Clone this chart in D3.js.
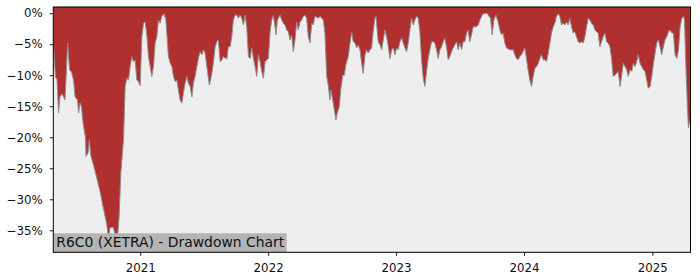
<!DOCTYPE html>
<html>
<head>
<meta charset="utf-8">
<script src="https://cdn.jsdelivr.net/npm/d3@7.9.0/dist/d3.min.js"></script>
<style>
  body { margin: 0; background: #fff; }
  svg { display: block; font-family: "DejaVu Sans", sans-serif; }
</style>
</head>
<body>
<svg id="chart" width="700" height="280"></svg>
<script>
// decimal years (time) and drawdown in percent
const years = [
  2020.323, 2020.340, 2020.352, 2020.364, 2020.375, 2020.391, 2020.403, 2020.414, 2020.435, 2020.450,
  2020.465, 2020.481, 2020.493, 2020.512, 2020.520, 2020.532, 2020.543, 2020.555, 2020.574, 2020.578,
  2020.594, 2020.604, 2020.615, 2020.649, 2020.688, 2020.713, 2020.740, 2020.753, 2020.766, 2020.792,
  2020.805, 2020.818, 2020.823, 2020.836, 2020.849, 2020.870, 2020.883, 2020.896, 2020.909, 2020.922,
  2020.935, 2020.948, 2020.961, 2020.974, 2020.987, 2021.000, 2021.013, 2021.026, 2021.039, 2021.052,
  2021.065, 2021.078, 2021.091, 2021.104, 2021.117, 2021.130, 2021.143, 2021.156, 2021.169, 2021.187,
  2021.201, 2021.221, 2021.234, 2021.248, 2021.260, 2021.273, 2021.287, 2021.299, 2021.312, 2021.326,
  2021.338, 2021.351, 2021.365, 2021.377, 2021.390, 2021.404, 2021.416, 2021.429, 2021.443, 2021.455,
  2021.468, 2021.482, 2021.494, 2021.507, 2021.521, 2021.541, 2021.560, 2021.572, 2021.586, 2021.599,
  2021.611, 2021.625, 2021.638, 2021.650, 2021.677, 2021.689, 2021.703, 2021.716, 2021.728, 2021.742,
  2021.755, 2021.767, 2021.781, 2021.794, 2021.807, 2021.820, 2021.833, 2021.846, 2021.859, 2021.872,
  2021.885, 2021.898, 2021.911, 2021.924, 2021.937, 2021.950, 2021.963, 2021.976, 2022.002, 2022.015,
  2022.028, 2022.041, 2022.054, 2022.062, 2022.072, 2022.093, 2022.106, 2022.119, 2022.132, 2022.145,
  2022.158, 2022.171, 2022.184, 2022.197, 2022.210, 2022.223, 2022.236, 2022.249, 2022.262, 2022.275,
  2022.288, 2022.301, 2022.314, 2022.327, 2022.341, 2022.353, 2022.366, 2022.392, 2022.405, 2022.419,
  2022.431, 2022.444, 2022.458, 2022.470, 2022.483, 2022.491, 2022.505, 2022.515, 2022.530, 2022.540,
  2022.556, 2022.567, 2022.583, 2022.595, 2022.608, 2022.626, 2022.640, 2022.653, 2022.665, 2022.679,
  2022.692, 2022.704, 2022.718, 2022.731, 2022.743, 2022.757, 2022.770, 2022.782, 2022.796, 2022.809,
  2022.822, 2022.835, 2022.843, 2022.853, 2022.861, 2022.874, 2022.887, 2022.900, 2022.913, 2022.926,
  2022.939, 2022.952, 2022.966, 2022.978, 2022.991, 2023.004, 2023.016, 2023.030, 2023.043, 2023.056,
  2023.069, 2023.082, 2023.095, 2023.108, 2023.121, 2023.134, 2023.147, 2023.160, 2023.173, 2023.186,
  2023.199, 2023.212, 2023.225, 2023.238, 2023.251, 2023.264, 2023.277, 2023.290, 2023.303, 2023.316,
  2023.329, 2023.342, 2023.356, 2023.368, 2023.381, 2023.395, 2023.407, 2023.420, 2023.433, 2023.446,
  2023.459, 2023.473, 2023.485, 2023.498, 2023.512, 2023.524, 2023.537, 2023.551, 2023.563, 2023.576,
  2023.589, 2023.602, 2023.629, 2023.641, 2023.655, 2023.668, 2023.680, 2023.711, 2023.727, 2023.738,
  2023.751, 2023.764, 2023.780, 2023.797, 2023.811, 2023.824, 2023.836, 2023.850, 2023.863, 2023.889,
  2023.915, 2023.928, 2023.941, 2023.953, 2023.967, 2023.980, 2023.992, 2024.006, 2024.019, 2024.031,
  2024.045, 2024.058, 2024.071, 2024.084, 2024.097, 2024.110, 2024.123, 2024.136, 2024.149, 2024.162,
  2024.175, 2024.188, 2024.201, 2024.214, 2024.227, 2024.240, 2024.253, 2024.266, 2024.279, 2024.292,
  2024.305, 2024.318, 2024.331, 2024.344, 2024.357, 2024.370, 2024.383, 2024.396, 2024.409, 2024.422,
  2024.435, 2024.448, 2024.461, 2024.474, 2024.487, 2024.500, 2024.513, 2024.526, 2024.539, 2024.552,
  2024.566, 2024.578, 2024.591, 2024.604, 2024.617, 2024.630, 2024.643, 2024.656, 2024.669, 2024.682,
  2024.695, 2024.708, 2024.721, 2024.734, 2024.748, 2024.761, 2024.773, 2024.787, 2024.800, 2024.812,
  2024.826, 2024.839, 2024.851, 2024.865, 2024.878, 2024.890, 2024.904, 2024.917, 2024.930, 2024.943,
  2024.956, 2024.968, 2024.982, 2024.995, 2025.008, 2025.021, 2025.034, 2025.047, 2025.060, 2025.073,
  2025.086, 2025.099, 2025.112, 2025.126, 2025.138, 2025.152, 2025.164, 2025.178, 2025.191, 2025.204,
  2025.217, 2025.230, 2025.243, 2025.251, 2025.262, 2025.274, 2025.282, 2025.290, 2025.298
];
const drawdown = [
  -4.8, -10.3, -10.7, -16.1, -13.5, -13.0, -13.5, -14.0, -4.8, -9.1,
  -9.5, -10.8, -13.5, -14.0, -16.1, -14.5, -15.1, -17.7, -20.1, -23.1,
  -22.5, -20.4, -22.9, -25.5, -28.8, -31.4, -34.1, -36.3, -34.5, -34.6,
  -35.8, -38.5, -36.3, -32.8, -25.8, -20.4, -11.8, -10.5, -10.8, -8.6,
  -7.0, -7.8, -7.6, -10.8, -11.0, -11.7, -3.8, -1.6, -1.4, -3.5,
  -7.0, -8.6, -10.2, -8.6, -4.8, -3.8, -1.1, -1.6, -0.5, -0.1,
  -1.1, -7.0, -8.0, -8.6, -10.2, -11.0, -10.8, -12.4, -14.0, -14.5,
  -12.9, -11.3, -10.2, -11.3, -11.8, -13.5, -11.3, -10.2, -8.6, -7.3,
  -6.2, -6.7, -5.9, -6.4, -8.6, -11.6, -9.7, -8.0, -5.4, -4.6,
  -4.3, -7.8, -7.6, -7.0, -7.4, -5.4, -5.4, -3.8, -1.1, -0.3,
  -0.3, -0.8, -0.3, -0.8, -1.9, -0.3, -2.2, -7.0, -7.3, -5.6,
  -7.3, -8.6, -10.2, -6.7, -7.8, -9.4, -10.5, -7.8, -7.3, -3.0,
  -1.1, -0.3, -2.2, -3.5, -1.1, -0.3, -1.1, -1.6, -1.9, -2.7,
  -3.0, -4.3, -3.5, -6.2, -4.3, -1.4, -2.7, -1.4, -1.1, -0.5,
  -0.3, -0.8, -3.8, -4.8, -1.6, -1.9, -0.5, -0.8, -0.5, -0.8,
  -1.1, -3.2, -10.2, -11.6, -14.0, -12.4, -14.0, -15.3, -17.2, -16.1,
  -15.1, -12.4, -10.0, -10.0, -8.3, -7.0, -4.8, -3.0, -4.6, -4.8,
  -5.6, -5.1, -5.9, -8.1, -9.7, -6.7, -5.9, -6.4, -5.9, -5.6,
  -2.7, -0.8, -0.5, -3.0, -4.6, -5.1, -5.9, -4.3, -2.7, -3.8,
  -5.4, -7.3, -5.9, -5.6, -6.7, -5.6, -5.9, -4.6, -4.0, -4.8,
  -5.6, -6.2, -4.8, -2.7, -0.8, -1.9, -1.1, -0.5, -0.8, -3.0,
  -7.5, -10.5, -11.8, -9.4, -7.3, -5.9, -4.6, -4.6, -4.8, -5.9,
  -7.3, -5.9, -5.4, -4.6, -4.0, -5.6, -7.5, -7.0, -6.2, -5.6,
  -5.1, -4.6, -5.9, -4.8, -5.9, -4.6, -4.6, -3.2, -2.7, -4.6,
  -3.5, -2.2, -2.2, -1.9, -1.1, -0.5, -0.1, 0.0, -0.5, -0.8,
  -3.5, -1.1, -0.3, -1.4, -2.7, -3.5, -3.2, -4.8, -5.6, -5.9,
  -5.9, -6.7, -7.3, -7.5, -7.0, -6.7, -6.2, -5.6, -7.3, -9.1,
  -10.8, -11.8, -10.2, -8.9, -8.6, -8.1, -7.3, -6.7, -7.5, -7.5,
  -7.8, -6.5, -4.8, -3.2, -2.2, -1.6, -0.5, -0.1, -0.5, -1.9,
  -1.6, -1.9, -1.4, -1.9, -0.8, -2.2, -3.2, -3.0, -3.8, -4.6,
  -4.8, -4.6, -4.8, -3.8, -2.2, -0.8, -1.1, -1.6, -1.9, -2.7,
  -3.0, -3.2, -5.4, -4.6, -3.8, -3.2, -4.6, -4.8, -5.4, -7.3,
  -10.2, -10.0, -9.7, -9.4, -11.8, -10.0, -8.1, -8.6, -9.1, -10.2,
  -9.1, -9.4, -8.1, -8.6, -7.8, -6.7, -8.1, -8.6, -9.1, -9.4,
  -10.8, -12.1, -11.8, -10.2, -8.1, -6.5, -4.8, -4.3, -5.4, -6.7,
  -5.4, -4.3, -3.8, -3.0, -2.7, -3.2, -3.2, -6.7, -7.3, -5.9,
  -2.2, -0.8, -0.5, -1.1, -8.6, -15.1, -18.5, -17.5, -18.0
];
const yTicks = [0, -5, -10, -15, -20, -25, -30, -35];
const xTickYears = [2021, 2022, 2023, 2024, 2025];
const title = "R6C0 (XETRA) - Drawdown Chart";

// decimal year -> Date
function toDate(t) {
  const yr = Math.floor(t);
  const a = Date.UTC(yr, 0, 1), b = Date.UTC(yr + 1, 0, 1);
  return new Date(a + (t - yr) * (b - a));
}

const data = years.map((t, i) => ({ date: toDate(t), value: drawdown[i] }));

const mLeft = 53.3, mRight = 690.5, mTop = 7, mBottom = 252.3;
const svg = d3.select('#chart');

const x = d3.scaleUtc()
  .domain([toDate(years[0]), toDate(years[years.length - 1])])
  .range([mLeft, mRight]);
const y = d3.scaleLinear().domain([-38.55, 1.0]).range([mBottom, mTop]);

svg.append('defs').append('clipPath').attr('id', 'clip')
  .append('rect').attr('x', mLeft).attr('y', mTop)
  .attr('width', mRight - mLeft).attr('height', mBottom - mTop);

svg.append('rect')
  .attr('x', mLeft).attr('y', mTop)
  .attr('width', mRight - mLeft).attr('height', mBottom - mTop)
  .attr('fill', '#eeeeee');

const plot = svg.append('g').attr('clip-path', 'url(#clip)');

let area = d3.area()
  .x(d => x(d.date))
  .y0(mTop)
  .y1(d => y(d.value));
plot.append('path').datum(data)
  .attr('d', area)
  .attr('fill', '#b02f2f');

let line = d3.line().x(d => x(d.date)).y(d => y(d.value));
plot.append('path').datum(data)
  .attr('d', line)
  .attr('fill', 'none')
  .attr('stroke', '#8c8c8c')
  .attr('stroke-width', 1);

// label box
const label = plot.append('g');
const box = label.append('rect').attr('fill', '#b4b4b4');
const txt = label.append('text')
  .attr('x', mLeft + 3).attr('y', 247.3)
  .attr('font-size', '13.9px').attr('fill', '#111')
  .text(title);
const w = txt.node().getComputedTextLength();
box.attr('x', mLeft).attr('y', 233.3).attr('width', w + 5.5).attr('height', mBottom - 233.3);

// axes
const xAxis = d3.axisBottom(x)
  .tickValues(xTickYears.map(toDate))
  .tickFormat(d3.utcFormat('%Y'))
  .tickSize(3.5).tickPadding(7.8).tickSizeOuter(0);
const gx = svg.append('g').attr('transform', `translate(0,${mBottom})`).call(xAxis);

const yAxis = d3.axisLeft(y)
  .tickValues(yTicks)
  .tickFormat(d => (d < 0 ? '\u2212' + (-d) : d) + '%')
  .tickSize(3.5).tickPadding(7).tickSizeOuter(0);
const gy = svg.append('g').attr('transform', `translate(${mLeft},0)`).call(yAxis);

[gx, gy].forEach(g => {
  g.select('.domain').remove();
  g.selectAll('.tick line').attr('stroke', '#000').attr('stroke-width', 0.9);
  g.selectAll('.tick text')
    .attr('fill', '#111')
    .style('font-family', '"DejaVu Sans", sans-serif')
    .style('font-size', '11.8px');
});

svg.append('rect')
  .attr('x', mLeft).attr('y', mTop)
  .attr('width', mRight - mLeft).attr('height', mBottom - mTop)
  .attr('fill', 'none').attr('stroke', '#000').attr('stroke-width', 1);
</script>
</body>
</html>
